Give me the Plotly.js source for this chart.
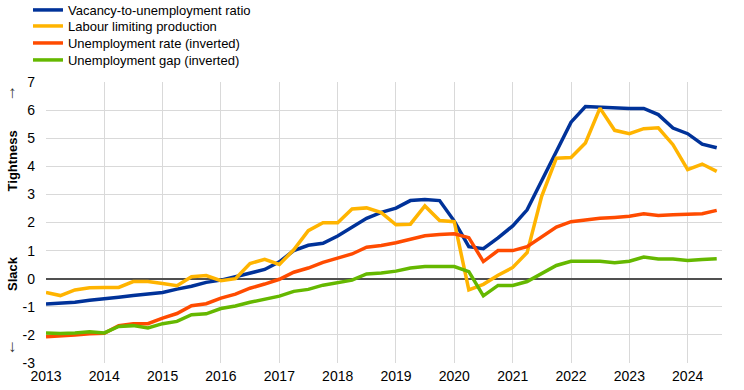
<!DOCTYPE html>
<html>
<head>
<meta charset="utf-8">
<script src="https://cdn.plot.ly/plotly-3.0.1.min.js"></script>
<style>
html,body{margin:0;padding:0;background:#fff;}
#chart{width:744px;height:390px;}
</style>
</head>
<body>
<div id="chart"></div>
<script>
// Quarterly observations, 2013 Q1 – 2024 Q3
const quarters = [
  '2013-01-01','2013-04-01','2013-07-01','2013-10-01',
  '2014-01-01','2014-04-01','2014-07-01','2014-10-01',
  '2015-01-01','2015-04-01','2015-07-01','2015-10-01',
  '2016-01-01','2016-04-01','2016-07-01','2016-10-01',
  '2017-01-01','2017-04-01','2017-07-01','2017-10-01',
  '2018-01-01','2018-04-01','2018-07-01','2018-10-01',
  '2019-01-01','2019-04-01','2019-07-01','2019-10-01',
  '2020-01-01','2020-04-01','2020-07-01','2020-10-01',
  '2021-01-01','2021-04-01','2021-07-01','2021-10-01',
  '2022-01-01','2022-04-01','2022-07-01','2022-10-01',
  '2023-01-01','2023-04-01','2023-07-01','2023-10-01',
  '2024-01-01','2024-04-01','2024-07-01'
];

const seriesNames = [
  'Vacancy-to-unemployment ratio',
  'Labour limiting production',
  'Unemployment rate (inverted)',
  'Unemployment gap (inverted)'
];

const vacancyRatio = [
  -0.90, -0.88, -0.84, -0.77,
  -0.73, -0.66, -0.60, -0.53,
  -0.49, -0.37, -0.27, -0.13,
  -0.05, 0.07, 0.19, 0.33,
  0.60, 1.00, 1.19, 1.26,
  1.52, 1.83, 2.15, 2.36,
  2.51, 2.78, 2.82, 2.78,
  2.05, 1.14, 1.07, 1.45,
  1.88, 2.45, 3.48, 4.52,
  5.57, 6.13, 6.10, 6.06,
  6.06, 6.06, 5.84, 5.36,
  5.16, 4.79, 4.66
];

const labourLimiting = [
  -0.49, -0.60, -0.40, -0.32,
  -0.31, -0.31, -0.10, -0.10,
  -0.17, -0.25, 0.07, 0.11,
  -0.07, 0.00, 0.54, 0.69,
  0.51, 1.03, 1.71, 1.99,
  1.99, 2.48, 2.52, 2.35,
  1.92, 1.94, 2.59, 2.07,
  2.03, -0.40, -0.20, 0.12,
  0.40, 0.93, 2.93, 4.29,
  4.31, 4.83, 6.07, 5.28,
  5.16, 5.34, 5.37, 4.77,
  3.88, 4.08, 3.82
];

const unemploymentRateInv = [
  -2.07, -2.05, -2.00, -1.96,
  -1.94, -1.67, -1.60, -1.60,
  -1.40, -1.24, -0.96, -0.89,
  -0.69, -0.55, -0.34, -0.19,
  -0.02, 0.23, 0.38, 0.58,
  0.74, 0.88, 1.12, 1.18,
  1.28, 1.41, 1.53, 1.57,
  1.60, 1.46, 0.61, 1.00,
  1.00, 1.14, 1.50, 1.84,
  2.03, 2.10, 2.15, 2.18,
  2.22, 2.31, 2.25, 2.28,
  2.28, 2.31, 2.43
];

const unemploymentGapInv = [
  -1.93, -1.95, -1.93, -1.89,
  -1.93, -1.70, -1.67, -1.75,
  -1.60, -1.52, -1.28, -1.25,
  -1.06, -0.97, -0.84, -0.74,
  -0.62, -0.45, -0.38, -0.23,
  -0.15, -0.05, 0.17, 0.20,
  0.27, 0.38, 0.43, 0.43,
  0.43, 0.25, -0.61, -0.24,
  -0.24, -0.10, 0.18, 0.47,
  0.62, 0.62, 0.62, 0.57,
  0.62, 0.77, 0.70, 0.70,
  0.65, 0.68, 0.71
];

const yTicks = [-3, -2, -1, 0, 1, 2, 3, 4, 5, 6, 7];
const colors = ['#003299', '#FFB400', '#FF4B00', '#65B800'];
const allSeries = [vacancyRatio, labourLimiting, unemploymentRateInv, unemploymentGapInv];

const FONT = 'Arial, "Liberation Sans", sans-serif';
const legendIds = ['legend', 'legend2', 'legend3', 'legend4'];
// vertical centres of the legend rows (container fraction)
const legendRowY = [0.9744, 0.9333, 0.8897, 0.8462];

const traces = allSeries.map((vals, i) => ({
  x: quarters,
  y: vals,
  name: seriesNames[i],
  type: 'scatter',
  mode: 'lines',
  line: {color: colors[i], width: 3.5},
  legend: legendIds[i],
  hoverinfo: 'skip'
}));

const layout = {
  width: 744,
  height: 390,
  margin: {l: 46, r: 22, t: 82, b: 27, autoexpand: false},
  paper_bgcolor: '#ffffff',
  plot_bgcolor: '#ffffff',
  font: {family: FONT, size: 14, color: '#000000'},
  showlegend: true,
  xaxis: {
    type: 'date',
    range: ['2013-01-01', '2024-08-03'],
    dtick: 'M12',
    tick0: '2013-01-01',
    tickformat: '%Y',
    showgrid: true,
    gridcolor: '#d9d9d9',
    gridwidth: 1,
    zeroline: false,
    showline: false,
    ticks: '',
    ticklabelstandoff: 3,
    tickfont: {family: FONT, size: 14, color: '#000000'},
    fixedrange: true
  },
  yaxis: {
    range: [-3, 7],
    tickvals: yTicks,
    ticktext: yTicks.map(String),
    showgrid: true,
    gridcolor: '#d9d9d9',
    gridwidth: 1,
    zeroline: true,
    zerolinecolor: '#505050',
    zerolinewidth: 2,
    showline: false,
    ticks: '',
    ticklabelstandoff: 10,
    tickfont: {family: FONT, size: 14, color: '#000000'},
    fixedrange: true
  },
  annotations: [
    {text: '<b>Tightness</b>', xref: 'paper', yref: 'paper', x: -0.0496, y: 0.719,
     xanchor: 'center', yanchor: 'middle',
     textangle: -90, showarrow: false, font: {family: FONT, size: 13, color: '#000'}},
    {text: '<b>Slack</b>', xref: 'paper', yref: 'paper', x: -0.0496, y: 0.3185,
     xanchor: 'center', yanchor: 'middle',
     textangle: -90, showarrow: false, font: {family: FONT, size: 13, color: '#000'}},
    {text: '↑', xref: 'paper', yref: 'paper', x: -0.0496, y: 0.961,
     xanchor: 'center', yanchor: 'middle',
     showarrow: false, font: {family: FONT, size: 17, color: '#333'}},
    {text: '↓', xref: 'paper', yref: 'paper', x: -0.0496, y: 0.057,
     xanchor: 'center', yanchor: 'middle',
     showarrow: false, font: {family: FONT, size: 17, color: '#333'}}
  ]
};

legendIds.forEach((id, i) => {
  layout[id] = {
    xref: 'container', yref: 'container',
    x: 0.0376, y: legendRowY[i],
    xanchor: 'left', yanchor: 'middle',
    font: {family: FONT, size: 13, color: '#000000'},
    bgcolor: 'rgba(0,0,0,0)',
    borderwidth: 0,
    itemwidth: 30
  };
});

Plotly.newPlot('chart', traces, layout, {displayModeBar: false, staticPlot: true});
</script>
</body>
</html>
